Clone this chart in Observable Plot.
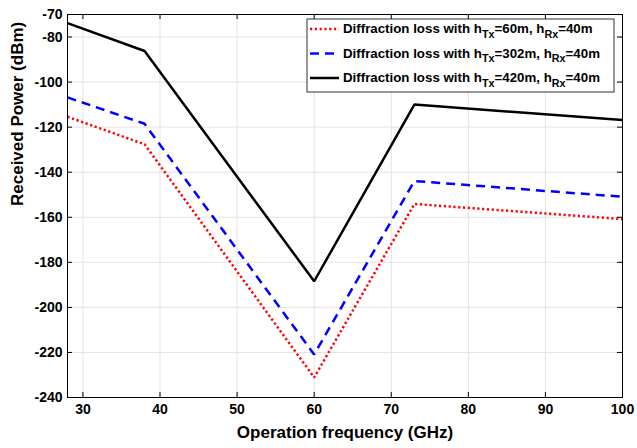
<!DOCTYPE html>
<html>
<head>
<meta charset="utf-8">
<script src="https://cdn.jsdelivr.net/npm/d3@7"></script>
<script src="https://cdn.jsdelivr.net/npm/@observablehq/plot@0.6"></script>
<style>
  html, body { margin: 0; padding: 0; background: white; }
</style>
</head>
<body>
<div id="chart"></div>
<script>
const freq = [28, 38, 60, 73, 100];
const lossTx60 = [-115.4, -127.6, -231.1, -154.1, -160.8];
const lossTx302 = [-106.8, -118.5, -220.9, -143.9, -150.9];
const lossTx420 = [-73.8, -86.2, -188.4, -110.0, -116.8];
const xTicks = [30, 40, 50, 60, 70, 80, 90, 100];
const yTicks = [-70, -80, -100, -120, -140, -160, -180, -200, -220, -240];
const seriesNames = ["60m", "302m", "420m"];
const xLabel = "Operation frequency (GHz)";
const yLabel = "Received Power (dBm)";

const W = 637, H = 448, mL = 67, mR = 15, mT = 14, mB = 51;
const pw = W - mL - mR, ph = H - mT - mB;

const rows = [];
[lossTx60, lossTx302, lossTx420].forEach((vals, s) => {
  freq.forEach((f, i) => rows.push({series: seriesNames[s], f, p: vals[i]}));
});
const styles = {
  "60m": {stroke: "#ff0000", dash: "2.2,2.6"},
  "302m": {stroke: "#0000ff", dash: "9,6"},
  "420m": {stroke: "#000000", dash: null}
};

const font = "'Liberation Sans', Arial, Helvetica, sans-serif";

const lineMarks = seriesNames.map(n => Plot.line(rows.filter(r => r.series === n), {
  x: "f", y: "p", stroke: styles[n].stroke, strokeWidth: 2.5,
  strokeDasharray: styles[n].dash, strokeLinejoin: "miter", strokeLinecap: "butt"
}));

const plot = Plot.plot({
  width: W, height: H,
  marginLeft: mL, marginRight: mR, marginTop: mT, marginBottom: mB,
  x: {domain: [28, 100]},
  y: {domain: [-240, -70]},
  style: {fontFamily: font, fontWeight: "bold", fontSize: "14px", background: "white", color: "black"},
  marks: [
    Plot.gridX(xTicks, {stroke: "#e3e3e3", strokeOpacity: 1}),
    Plot.gridY(yTicks, {stroke: "#e3e3e3", strokeOpacity: 1}),
    ...lineMarks,
    Plot.tickX(xTicks, {x: d => d, insetTop: ph - 5, stroke: "black"}),
    Plot.tickX(xTicks, {x: d => d, insetBottom: ph - 5, stroke: "black"}),
    Plot.tickY(yTicks, {y: d => d, insetRight: pw - 5, stroke: "black"}),
    Plot.tickY(yTicks, {y: d => d, insetLeft: pw - 5, stroke: "black"}),
    Plot.frame({stroke: "black", strokeWidth: 1}),
    Plot.axisX(xTicks, {tickSize: 0, tickPadding: 7, label: null, fontSize: 14, fontWeight: "bold", tickFormat: d => String(d)}),
    Plot.axisY(yTicks, {tickSize: 0, tickPadding: 5, label: null, fontSize: 14, fontWeight: "bold", tickFormat: d => String(d)}),
    Plot.text([xLabel], {frameAnchor: "bottom", dy: 40, fontSize: 17, fontWeight: "bold", text: d => d}),
    Plot.text([yLabel], {frameAnchor: "left", dx: -50, rotate: -90, fontSize: 17, fontWeight: "bold", text: d => d})
  ]
});
document.getElementById("chart").appendChild(plot);

// Legend inside the plot (top-right)
const svg = d3.select(plot);
const lg = svg.append("g").attr("font-family", font).attr("font-weight", "bold").attr("text-anchor", "start");
lg.append("rect").attr("x", 307).attr("y", 19).attr("width", 307).attr("height", 73)
  .attr("fill", "white").attr("stroke", "#333").attr("stroke-width", 1);
const entries = [
  {n: "60m", tx: "=60m, h"},
  {n: "302m", tx: "=302m, h"},
  {n: "420m", tx: "=420m, h"}
];
entries.forEach((e, i) => {
  const cy = 29 + i * 24.5;
  lg.append("line").attr("x1", 310).attr("x2", 339).attr("y1", cy).attr("y2", cy)
    .attr("stroke", styles[e.n].stroke).attr("stroke-width", 2.5)
    .attr("stroke-dasharray", styles[e.n].dash);
  const t = lg.append("text").attr("x", 343).attr("y", cy + 4).attr("font-size", 13.3).attr("fill", "black")
    .attr("text-anchor", "start");
  t.append("tspan").text("Diffraction loss with h");
  t.append("tspan").attr("dy", 4.5).attr("font-size", 10.8).text("Tx");
  t.append("tspan").attr("dy", -4.5).text(e.tx);
  t.append("tspan").attr("dy", 4.5).attr("font-size", 10.8).text("Rx");
  t.append("tspan").attr("dy", -4.5).text("=40m");
});
</script>
</body>
</html>
